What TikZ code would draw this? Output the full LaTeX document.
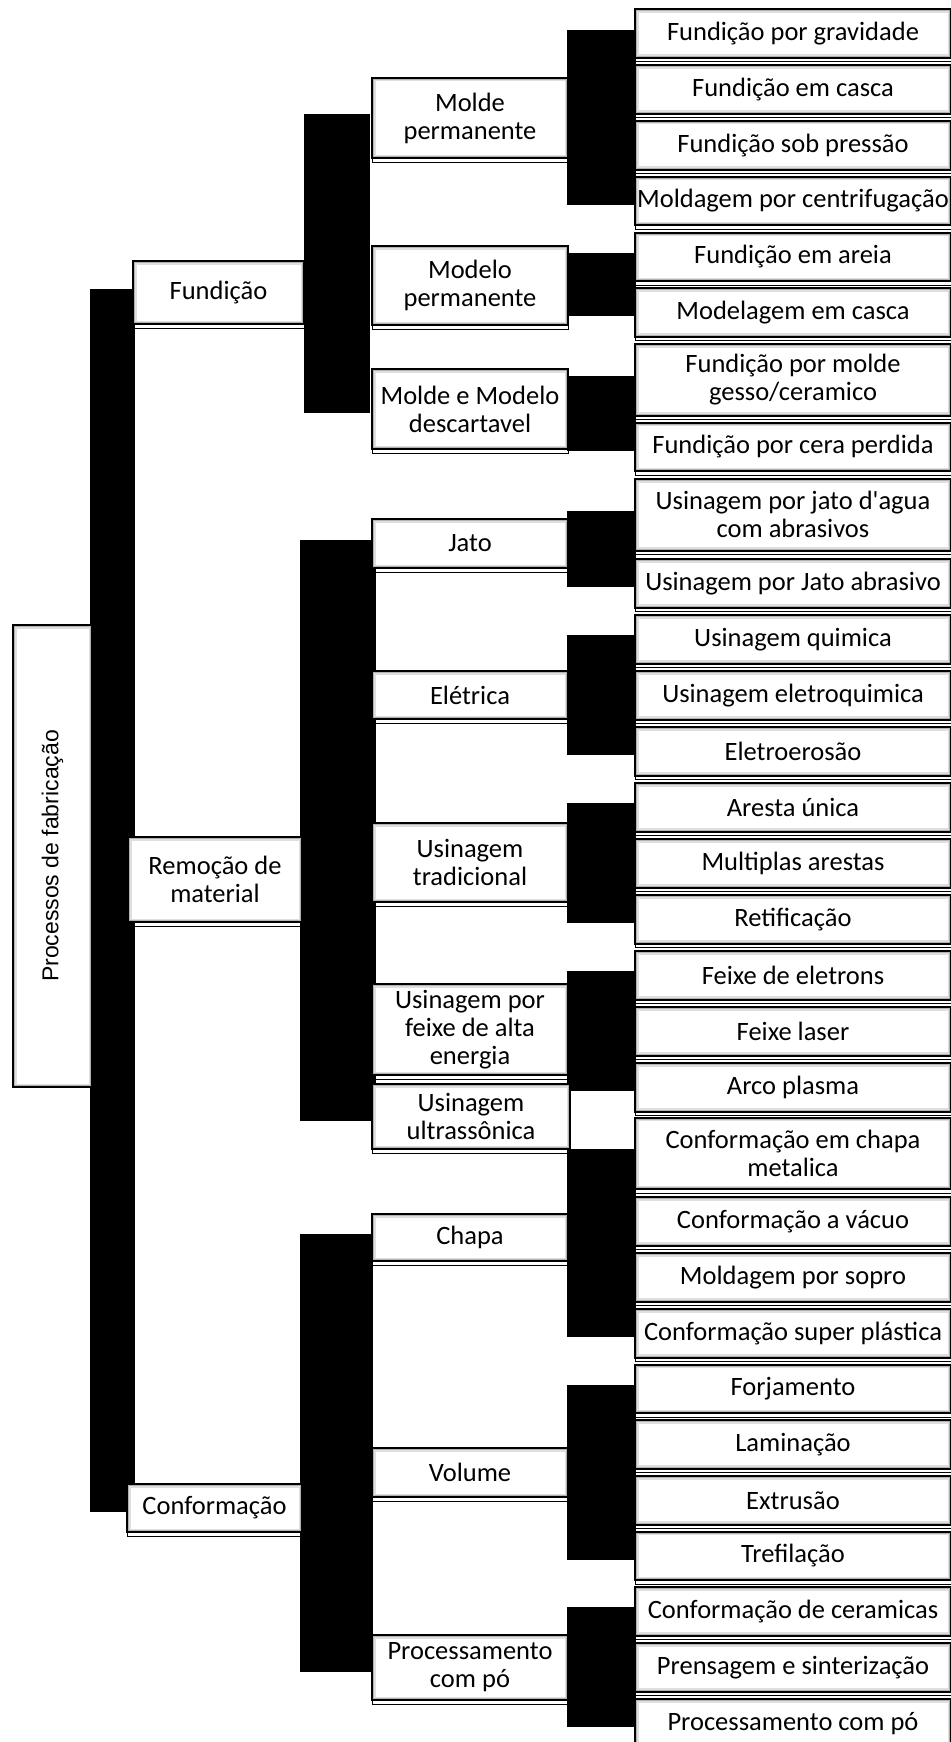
\documentclass[tikz,border=0pt]{standalone}
\usepackage{graphicx}
\usepackage{fontspec}
\setmainfont{Carlito}
\newfontfamily\rootfont{Liberation Sans}
\usetikzlibrary{backgrounds,calc}
\tikzset{
  innerglow/.style={path picture={
      \draw[gray!25, line width=7pt] (path picture bounding box.south west) rectangle (path picture bounding box.north east);
      \draw[gray!60, line width=4pt] (path picture bounding box.south west) rectangle (path picture bounding box.north east);}},
  box/.style={draw=black, line width=2pt, fill=white, align=center, inner sep=0pt,
    anchor=north west, font=\fontsize{26.5}{28}\selectfont, innerglow,
    preaction={draw=black, line width=1pt, transform canvas={yshift=-4pt}}},
  rootbox/.style={draw=black, line width=2pt, fill=white, inner sep=0pt,
    anchor=north west, innerglow, font=\rootfont\fontsize{23}{26}\selectfont},
  bar/.style={fill=black}
}
\newcommand\lvlone[5]{\node[box, minimum width=#3pt, minimum height=#4pt] (#1) at (#2) {#5};}
\newcommand\lvltwo[4]{\node[box, minimum width=196pt, minimum height=#3pt] (#1) at (371,#2) {#4};}
\newcommand\leafbox[4]{\node[box, minimum width=316pt, minimum height=#3pt] (#1) at (634,#2) {#4};}
\begin{document}
\begin{tikzpicture}[x=1pt,y=-1pt]
\useasboundingbox (0,0) rectangle (950,1742);
% root
\node[rootbox, minimum width=79pt, minimum height=462pt] (root) at (12,624) {\rotatebox{90}{Processos de fabricação}};
% level 1
\lvlone{fund}{132,260}{171}{63}{Fundição}
\lvlone{remo}{127,836}{174}{85}{Remoção de\\material}
\lvlone{conf}{126,1483}{175}{48}{Conformação}
% level 2
\lvltwo{mp}{77}{80}{Molde\\permanente}
\lvltwo{mop}{245}{79}{Modelo\\permanente}
\lvltwo{mmd}{368}{80}{Molde e Modelo\\descartavel}
\lvltwo{jato}{518}{49}{Jato}
\lvltwo{elet}{670}{48}{Elétrica}
\lvltwo{utrad}{822}{79}{Usinagem\\tradicional}
\lvltwo{feixe}{983}{91}{Usinagem por\\feixe de alta\\energia}
\node[box, minimum width=198pt, minimum height=65pt] (ultra) at (371,1083) {Usinagem\\ultrassônica};
\lvltwo{chapa}{1213}{47}{Chapa}
\lvltwo{vol}{1447}{49}{Volume}
\lvltwo{proc}{1634}{65}{Processamento\\com pó}
% leaves
\leafbox{l1}{8.3}{48.5}{Fundição por gravidade}
\leafbox{l2}{64.3}{48.5}{Fundição em casca}
\leafbox{l3}{120}{48.5}{Fundição sob pressão}
\leafbox{l4}{175.7}{48.5}{Moldagem por centrifugação}
\leafbox{l5}{231.5}{48.5}{Fundição em areia}
\leafbox{l6}{287}{48.5}{Modelagem em casca}
\leafbox{l7}{343}{71.5}{Fundição por molde\\gesso/ceramico}
\leafbox{l8}{421.5}{48.5}{Fundição por cera perdida}
\leafbox{l9}{478}{71.5}{Usinagem por jato d\textquotesingle agua\\com abrasivos}
\leafbox{l10}{558}{48.5}{Usinagem por Jato abrasivo}
\leafbox{l11}{614}{48.5}{Usinagem quimica}
\leafbox{l12}{670}{48.5}{Usinagem eletroquimica}
\leafbox{l13}{726}{48.5}{Eletroerosão}
\leafbox{l14}{782}{48.5}{Aresta única}
\leafbox{l15}{838}{48.5}{Multiplas arestas}
\leafbox{l16}{894}{48.5}{Retificação}
\leafbox{l17}{950}{48.5}{Feixe de eletrons}
\leafbox{l18}{1006}{48.5}{Feixe laser}
\leafbox{l19}{1062}{48.5}{Arco plasma}
\leafbox{l20}{1116.5}{71.5}{Conformação em chapa\\metalica}
\leafbox{l21}{1196}{48.5}{Conformação a vácuo}
\leafbox{l22}{1252}{48.5}{Moldagem por sopro}
\leafbox{l23}{1308}{48.5}{Conformação super plástica}
\leafbox{l24}{1363.5}{48.5}{Forjamento}
\leafbox{l25}{1419}{48.5}{Laminação}
\leafbox{l26}{1475}{48.5}{Extrusão}
\leafbox{l27}{1530.5}{48.5}{Trefilação}
\leafbox{l28}{1586}{48.5}{Conformação de ceramicas}
\leafbox{l29}{1642}{48.5}{Prensagem e sinterização}
\leafbox{l30}{1698}{48.5}{Processamento com pó}
% connector bars
\begin{scope}[on background layer]
\fill[bar] ($(root.east |- fund.center)+(-3,-4)$) rectangle ($(fund.west |- conf.center)+(3,4)$);
\fill[bar] ($(fund.east |- mp.center)+(-1,-4)$) rectangle ($(mp.west |- mmd.center)+(-1,4)$);
\fill[bar] ($(remo.east |- jato.center)+(-3,-4)$) rectangle ($(jato.west |- ultra.center)+(5,4)$);
\fill[bar] ($(conf.east |- chapa.center)+(-3,-4)$) rectangle ($(chapa.west |- proc.center)+(2,4)$);
\fill[bar] ($(mp.east |- l1.center)+(-2,-4)$) rectangle ($(l1.west |- l4.center)+(2,4)$);
\fill[bar] ($(mop.east |- l5.center)+(-2,-4)$) rectangle ($(l5.west |- l6.center)+(2,4)$);
\fill[bar] ($(mmd.east |- l7.center)+(-2,-4)$) rectangle ($(l7.west |- l8.center)+(2,4)$);
\fill[bar] ($(jato.east |- l9.center)+(-2,-4)$) rectangle ($(l9.west |- l10.center)+(2,4)$);
\fill[bar] ($(elet.east |- l11.center)+(-2,-4)$) rectangle ($(l11.west |- l13.center)+(2,4)$);
\fill[bar] ($(utrad.east |- l14.center)+(-2,-4)$) rectangle ($(l14.west |- l16.center)+(2,4)$);
\fill[bar] ($(feixe.east |- l17.center)+(-2,-4)$) rectangle ($(l17.west |- l19.center)+(2,4)$);
\fill[bar] ($(chapa.east |- l20.center)+(-2,-4)$) rectangle ($(l20.west |- l23.center)+(2,4)$);
\fill[bar] ($(vol.east |- l24.center)+(-2,-4)$) rectangle ($(l24.west |- l27.center)+(2,4)$);
\fill[bar] ($(proc.east |- l28.center)+(-2,-4)$) rectangle ($(l28.west |- l30.center)+(2,4)$);
\end{scope}
\end{tikzpicture}
\end{document}
